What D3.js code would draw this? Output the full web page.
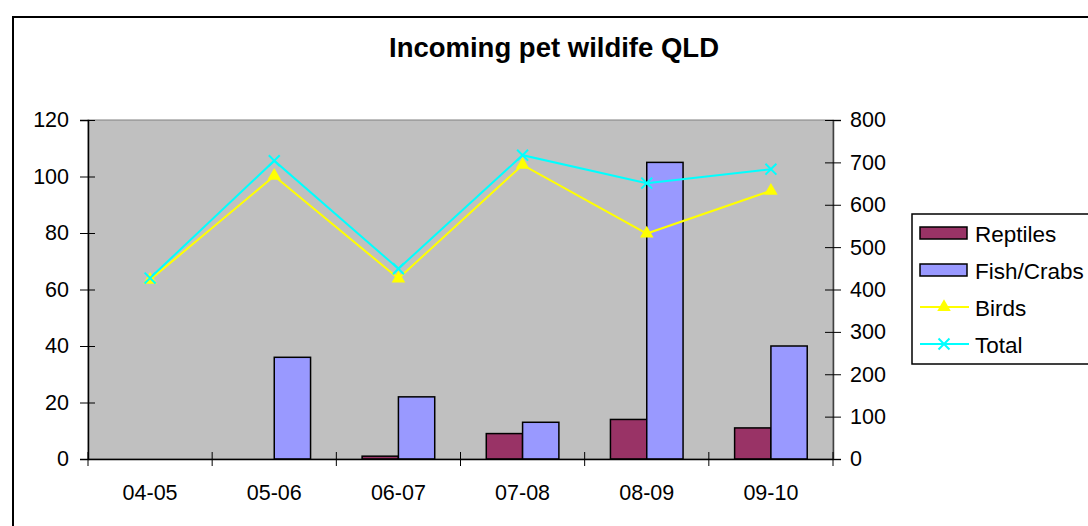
<!DOCTYPE html>
<html>
<head>
<meta charset="utf-8">
<script src="https://cdn.jsdelivr.net/npm/d3@7"></script>
<style>
  body { margin: 0; background: #fff; }
  svg { display: block; font-family: "Liberation Sans", Arial, sans-serif; }
</style>
</head>
<body>
<script>
// chart data
var years = ["04-05", "05-06", "06-07", "07-08", "08-09", "09-10"];
var reptiles = [0, 0, 1, 9, 14, 11];
var fishCrabs = [0, 36, 22, 13, 105, 40];
var birds = [423, 668, 426, 694, 532, 633];
var total = [427, 704, 449, 717, 651, 684];
var leftTicks = [0, 20, 40, 60, 80, 100, 120];
var rightTicks = [0, 100, 200, 300, 400, 500, 600, 700, 800];

var width = 1088, height = 526;
var plot = { left: 88, right: 833, top: 120, bottom: 459 };

var svg = d3.select("body").append("svg")
    .attr("width", width)
    .attr("height", height);

// outer chart border
svg.append("rect")
    .attr("x", 13).attr("y", 17)
    .attr("width", width).attr("height", height)
    .attr("fill", "#fff")
    .attr("stroke", "#000")
    .attr("stroke-width", 2);

svg.append("text")
    .attr("x", 554).attr("y", 57)
    .attr("text-anchor", "middle")
    .attr("font-size", 27.5)
    .attr("font-weight", "bold")
    .text("Incoming pet wildife QLD");

var x = d3.scaleBand().domain(years).range([plot.left, plot.right]);
var xSub = d3.scaleBand().domain(["reptiles", "fish"])
    .range([0, x.bandwidth()]).paddingOuter(0.71);
var yLeft = d3.scaleLinear().domain([0, 120]).range([plot.bottom, plot.top]);
var yRight = d3.scaleLinear().domain([0, 800]).range([plot.bottom, plot.top]);

// plot area
svg.append("rect")
    .attr("x", plot.left).attr("y", plot.top)
    .attr("width", plot.right - plot.left)
    .attr("height", plot.bottom - plot.top)
    .attr("fill", "#c0c0c0")
    .attr("stroke", "#808080")
    .attr("stroke-width", 1);

// bars
var barSeries = [
    { key: "reptiles", values: reptiles, color: "#993366" },
    { key: "fish", values: fishCrabs, color: "#9999ff" }
];
barSeries.forEach(function(s) {
    svg.selectAll(".bar-" + s.key)
        .data(years)
        .enter()
        .filter(function(d, i) { return s.values[i] > 0; })
        .append("rect")
        .attr("class", "bar-" + s.key)
        .attr("x", function(d) { return x(d) + xSub(s.key); })
        .attr("y", function(d) { return yLeft(s.values[years.indexOf(d)]); })
        .attr("width", xSub.bandwidth())
        .attr("height", function(d) { return plot.bottom - yLeft(s.values[years.indexOf(d)]); })
        .attr("fill", s.color)
        .attr("stroke", "#000")
        .attr("stroke-width", 1.5);
});

// lines on the secondary axis
var line = d3.line()
    .x(function(d, i) { return x(years[i]) + x.bandwidth() / 2; })
    .y(function(d) { return yRight(d); });

svg.append("path").datum(birds)
    .attr("d", line).attr("fill", "none")
    .attr("stroke", "#ffff00").attr("stroke-width", 2);
svg.append("path").datum(total)
    .attr("d", line).attr("fill", "none")
    .attr("stroke", "#00ffff").attr("stroke-width", 2);

var tri = d3.symbol().type(d3.symbolTriangle).size(80);
svg.selectAll(".birdMark").data(birds).enter()
    .append("path")
    .attr("class", "birdMark")
    .attr("d", tri)
    .attr("transform", function(d, i) {
        return "translate(" + (x(years[i]) + x.bandwidth() / 2) + "," + yRight(d) + ")";
    })
    .attr("fill", "#ffff00");

var cross = d3.symbol().type(d3.symbolX).size(80);
svg.selectAll(".totalMark").data(total).enter()
    .append("path")
    .attr("class", "totalMark")
    .attr("d", cross)
    .attr("transform", function(d, i) {
        return "translate(" + (x(years[i]) + x.bandwidth() / 2) + "," + yRight(d) + ")";
    })
    .attr("fill", "none")
    .attr("stroke", "#00ffff")
    .attr("stroke-width", 2);

// axes
var leftAxis = svg.append("g")
    .attr("transform", "translate(" + plot.left + ",0)")
    .call(d3.axisLeft(yLeft).tickValues(leftTicks).tickSize(8).tickPadding(11));
var rightAxis = svg.append("g")
    .attr("transform", "translate(" + plot.right + ",0)")
    .call(d3.axisRight(yRight).tickValues(rightTicks).tickSize(8).tickPadding(9));
var bottomAxis = svg.append("g")
    .attr("transform", "translate(0," + plot.bottom + ")")
    .call(d3.axisBottom(x).tickSize(0).tickPadding(26));

[leftAxis, rightAxis, bottomAxis].forEach(function(a) {
    a.selectAll("text").attr("font-size", 21.5).attr("fill", "#000")
        .style("font-family", "'Liberation Sans', Arial, sans-serif");
    a.select(".domain").attr("stroke", "#000").attr("stroke-width", 1.5);
    a.selectAll("line").attr("stroke", "#000");
});
rightAxis.select(".domain").attr("stroke", "#404040");

// cross tick marks extend into the plot too
leftAxis.selectAll(".tick line").attr("x1", 7);
rightAxis.selectAll(".tick line").attr("x1", -8);

// category boundary ticks
svg.selectAll(".catTick")
    .data(years.concat(["end"]))
    .enter()
    .append("line")
    .attr("class", "catTick")
    .attr("x1", function(d, i) { return plot.left + i * x.step(); })
    .attr("x2", function(d, i) { return plot.left + i * x.step(); })
    .attr("y1", plot.bottom - 7)
    .attr("y2", plot.bottom + 7)
    .attr("stroke", "#000");

// legend
var legend = svg.append("g").attr("transform", "translate(912,214)");
legend.append("rect")
    .attr("width", 190).attr("height", 150)
    .attr("fill", "#fff")
    .attr("stroke", "#000").attr("stroke-width", 1.5);

var legendItems = [
    { name: "Reptiles", type: "bar", color: "#993366" },
    { name: "Fish/Crabs", type: "bar", color: "#9999ff" },
    { name: "Birds", type: "tri", color: "#ffff00" },
    { name: "Total", type: "x", color: "#00ffff" }
];
var item = legend.selectAll(".item").data(legendItems).enter()
    .append("g")
    .attr("transform", function(d, i) { return "translate(0," + (19 + i * 37) + ")"; });

item.filter(function(d) { return d.type === "bar"; })
    .append("rect")
    .attr("x", 8).attr("y", -6)
    .attr("width", 47).attr("height", 12)
    .attr("fill", function(d) { return d.color; })
    .attr("stroke", "#000").attr("stroke-width", 1.5);

item.filter(function(d) { return d.type !== "bar"; })
    .append("line")
    .attr("x1", 8).attr("x2", 57)
    .attr("stroke", function(d) { return d.color; })
    .attr("stroke-width", 2);

item.filter(function(d) { return d.type === "tri"; })
    .append("path")
    .attr("d", tri)
    .attr("transform", "translate(32,0)")
    .attr("fill", function(d) { return d.color; });

item.filter(function(d) { return d.type === "x"; })
    .append("path")
    .attr("d", cross)
    .attr("transform", "translate(32,0)")
    .attr("fill", "none")
    .attr("stroke", function(d) { return d.color; })
    .attr("stroke-width", 2);

item.append("text")
    .attr("x", 63).attr("y", 8.5)
    .attr("font-size", 22.5)
    .text(function(d) { return d.name; });
</script>
</body>
</html>
